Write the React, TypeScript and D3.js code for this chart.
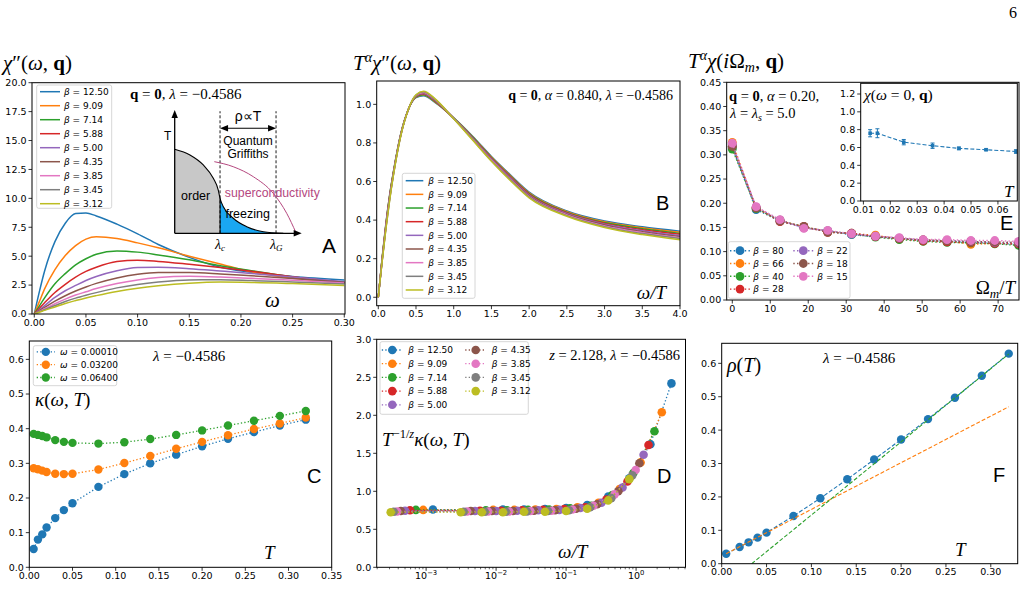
import React from 'react';
import * as d3 from 'd3';

// ---------------- colours ----------------
const tab10 = ['#1f77b4', '#ff7f0e', '#2ca02c', '#d62728', '#9467bd', '#8c564b', '#e377c2', '#7f7f7f', '#bcbd22'];
const SANS = 'DejaVu Sans, Liberation Sans, sans-serif';
const SERIF = 'Liberation Serif, DejaVu Serif, serif';
const ARIAL = 'Liberation Sans, Arial, sans-serif';

// ---------------- Panel A : chi''(omega) ----------------
const betaA = ['12.50', '9.09', '7.14', '5.88', '5.00', '4.35', '3.85', '3.45', '3.12'];
const omegaA = [0, 0.005, 0.01, 0.02, 0.03, 0.04, 0.05, 0.06, 0.08, 0.10, 0.12, 0.15, 0.18, 0.21, 0.25, 0.30];
const chiA_1250 = [0, 1.96, 3.72, 6.26, 7.85, 8.68, 8.73, 8.48, 7.77, 6.93, 6.01, 4.90, 4.05, 3.62, 3.25, 2.95];
const chiA_909 = [0, 1.09, 2.17, 3.83, 5.05, 5.91, 6.47, 6.68, 6.53, 6.15, 5.72, 5.00, 4.33, 3.65, 3.08, 2.70];
const chiA_714 = [0, 0.71, 1.39, 2.61, 3.49, 4.25, 4.78, 5.17, 5.45, 5.35, 5.11, 4.69, 4.17, 3.75, 3.20, 2.66];
const chiA_588 = [0, 0.50, 0.97, 1.86, 2.57, 3.19, 3.68, 4.04, 4.54, 4.65, 4.55, 4.30, 4.02, 3.70, 3.23, 2.75];
const chiA_500 = [0, 0.37, 0.73, 1.43, 2.01, 2.47, 2.90, 3.24, 3.74, 4.01, 4.05, 3.92, 3.72, 3.51, 3.20, 2.78];
const chiA_435 = [0, 0.29, 0.57, 1.11, 1.58, 1.99, 2.34, 2.65, 3.12, 3.44, 3.59, 3.58, 3.46, 3.30, 3.08, 2.75];
const chiA_385 = [0, 0.23, 0.45, 0.89, 1.29, 1.64, 1.92, 2.20, 2.64, 2.95, 3.15, 3.26, 3.20, 3.09, 2.92, 2.69];
const chiA_345 = [0, 0.19, 0.37, 0.73, 1.08, 1.37, 1.62, 1.85, 2.26, 2.56, 2.77, 2.95, 2.96, 2.89, 2.77, 2.60];
const chiA_312 = [0, 0.15, 0.31, 0.61, 0.91, 1.16, 1.39, 1.59, 1.95, 2.23, 2.44, 2.66, 2.76, 2.73, 2.63, 2.47];
const chiA = [chiA_1250, chiA_909, chiA_714, chiA_588, chiA_500, chiA_435, chiA_385, chiA_345, chiA_312];

// Panel A inset (schematic phase diagram, in inset units)
const phaseOrder = [[0, 0.681], [0.12, 0.635], [0.225, 0.554], [0.304, 0.446], [0.343, 0.351], [0.357, 0.284]];
const phaseFreeze = [[0.357, 0.284], [0.383, 0.216], [0.461, 0.122], [0.567, 0.054], [0.698, 0.013], [0.855, 0]];
const scDome = [[0.312, 0.581], [0.461, 0.540], [0.619, 0.459], [0.776, 0.324], [0.882, 0.162], [0.955, 0.005]];
const lambdaC = 0.357;
const lambdaG = 0.798;

// ---------------- Panel B : scaled chi'' ----------------
const xB = [0, 0.05, 0.1, 0.15, 0.2, 0.3, 0.4, 0.5, 0.6, 0.75, 1.0, 1.25, 1.5, 1.75, 2.0, 2.5, 3.0, 3.5, 4.0];
const yB_1250 = [0, .200, .380, .530, .650, .850, .975, 1.035, 1.045, 1.010, .930, .835, .730, .635, .545, .447, .395, .365, .342];
const yB_909 = [0, .198, .376, .526, .647, .849, .975, 1.037, 1.048, 1.013, .929, .832, .727, .631, .541, .444, .391, .360, .337];
const yB_714 = [0, .195, .372, .523, .645, .848, .975, 1.039, 1.050, 1.015, .929, .830, .724, .627, .537, .440, .387, .355, .331];
const yB_588 = [0, .193, .369, .519, .642, .846, .975, 1.041, 1.053, 1.018, .928, .827, .721, .624, .534, .437, .383, .350, .326];
const yB_500 = [0, .190, .365, .515, .640, .845, .975, 1.043, 1.056, 1.020, .928, .825, .718, .620, .530, .434, .379, .345, .320];
const yB_435 = [0, .188, .361, .511, .638, .844, .975, 1.044, 1.059, 1.022, .927, .823, .714, .616, .526, .430, .375, .340, .315];
const yB_385 = [0, .185, .358, .508, .635, .843, .975, 1.046, 1.062, 1.025, .927, .820, .711, .612, .522, .427, .370, .335, .309];
const yB_345 = [0, .183, .354, .504, .633, .841, .975, 1.048, 1.065, 1.027, .926, .818, .708, .609, .519, .423, .366, .330, .304];
const yB_312 = [0, .180, .350, .500, .630, .840, .975, 1.050, 1.068, 1.030, .925, .815, .705, .605, .515, .420, .362, .325, .298];
const yB = [yB_1250, yB_909, yB_714, yB_588, yB_500, yB_435, yB_385, yB_345, yB_312];

// ---------------- Panel E : Matsubara ----------------
const betaE = ['80', '66', '40', '28', '22', '18', '15'];
const xE = [0, 6.28, 12.57, 18.85, 25.13, 31.42, 37.70, 43.98, 50.27, 56.55, 62.83, 69.12, 75.40];
const yE_80 = [0.315, 0.187, 0.163, 0.150, 0.142, 0.135, 0.131, 0.127, 0.123, 0.121, 0.119, 0.117, 0.115];
const yE_66 = [0.326, 0.190, 0.164, 0.151, 0.141, 0.137, 0.134, 0.126, 0.124, 0.122, 0.115, 0.117, 0.116];
const yE_40 = [0.312, 0.189, 0.165, 0.150, 0.143, 0.136, 0.130, 0.125, 0.121, 0.119, 0.118, 0.116, 0.113];
const yE_28 = [0.318, 0.191, 0.162, 0.152, 0.140, 0.138, 0.131, 0.127, 0.122, 0.120, 0.119, 0.117, 0.116];
const yE_22 = [0.321, 0.192, 0.165, 0.149, 0.143, 0.136, 0.132, 0.128, 0.124, 0.123, 0.121, 0.119, 0.118];
const yE_18 = [0.318, 0.190, 0.163, 0.152, 0.140, 0.138, 0.131, 0.127, 0.124, 0.122, 0.121, 0.120, 0.119];
const yE_15 = [0.324, 0.193, 0.166, 0.148, 0.144, 0.137, 0.132, 0.129, 0.125, 0.125, 0.123, 0.123, 0.121];
const yE = [yE_80, yE_66, yE_40, yE_28, yE_22, yE_18, yE_15];
// inset
const tInset = [0.0125, 0.0152, 0.025, 0.0357, 0.0455, 0.0556, 0.0667];
const chi0Inset = [0.76, 0.76, 0.66, 0.62, 0.59, 0.575, 0.555];
const chi0Err = [0.04, 0.05, 0.03, 0.03, 0.015, 0.01, 0.02];

// ---------------- Panel C : kappa(omega,T) ----------------
const omegaC = ['0.00010', '0.03200', '0.06400'];
const tC = [0.005, 0.01, 0.015, 0.02, 0.03, 0.04, 0.05, 0.08, 0.11, 0.14, 0.17, 0.20, 0.23, 0.26, 0.29, 0.32];
const kC_1 = [0.053, 0.080, 0.095, 0.115, 0.142, 0.165, 0.185, 0.232, 0.269, 0.300, 0.325, 0.349, 0.371, 0.390, 0.409, 0.426];
const kC_2 = [0.286, 0.283, 0.279, 0.275, 0.270, 0.269, 0.270, 0.282, 0.301, 0.321, 0.342, 0.362, 0.381, 0.399, 0.415, 0.432];
const kC_3 = [0.385, 0.382, 0.379, 0.375, 0.367, 0.362, 0.359, 0.357, 0.361, 0.370, 0.382, 0.395, 0.409, 0.423, 0.437, 0.451];
const kC = [kC_1, kC_2, kC_3];

// ---------------- Panel D : scaled kappa ----------------
const xD_1250 = [0.00125, 0.0125, 0.025, 0.05, 0.1, 0.2, 0.4, 0.8, 1.6, 3.2];
const yD_1250 = [0.76, 0.76, 0.76, 0.765, 0.78, 0.82, 0.93, 1.17, 1.62, 2.42];
const xD_909 = [0.000909, 0.00909, 0.0182, 0.0364, 0.0727, 0.145, 0.291, 0.582, 1.16, 2.33];
const yD_909 = [0.755, 0.755, 0.755, 0.76, 0.765, 0.79, 0.85, 1.03, 1.38, 2.04];
const xD_714 = [0.000714, 0.00714, 0.0143, 0.0286, 0.0571, 0.114, 0.229, 0.457, 0.914, 1.83];
const yD_714 = [0.755, 0.75, 0.75, 0.755, 0.76, 0.775, 0.81, 0.95, 1.24, 1.79];
const xD_588 = [0.000588, 0.00588, 0.0118, 0.0235, 0.047, 0.094, 0.188, 0.376, 0.753, 1.505];
const yD_588 = [0.75, 0.745, 0.745, 0.75, 0.755, 0.765, 0.79, 0.89, 1.13, 1.61];
const xD_500 = [0.0005, 0.005, 0.01, 0.02, 0.04, 0.08, 0.16, 0.32, 0.64, 1.28];
const yD_500 = [0.745, 0.74, 0.74, 0.745, 0.75, 0.755, 0.78, 0.85, 1.05, 1.48];
const xD_435 = [0.000435, 0.00435, 0.0087, 0.0174, 0.0348, 0.0696, 0.139, 0.278, 0.557, 1.114];
const yD_435 = [0.74, 0.74, 0.74, 0.74, 0.745, 0.75, 0.77, 0.83, 1.0, 1.37];
const xD_385 = [0.000385, 0.00385, 0.0077, 0.0154, 0.0308, 0.0616, 0.123, 0.246, 0.493, 0.986];
const yD_385 = [0.735, 0.735, 0.735, 0.735, 0.74, 0.745, 0.76, 0.81, 0.96, 1.28];
const xD_345 = [0.000345, 0.00345, 0.0069, 0.0138, 0.0276, 0.0552, 0.110, 0.221, 0.442, 0.883];
const yD_345 = [0.73, 0.73, 0.73, 0.73, 0.735, 0.74, 0.75, 0.79, 0.91, 1.21];
const xD_312 = [0.000312, 0.00312, 0.00624, 0.0125, 0.025, 0.0499, 0.0998, 0.2, 0.399, 0.799];
const yD_312 = [0.725, 0.725, 0.725, 0.725, 0.73, 0.73, 0.74, 0.77, 0.88, 1.16];
const xD = [xD_1250, xD_909, xD_714, xD_588, xD_500, xD_435, xD_385, xD_345, xD_312];
const yD = [yD_1250, yD_909, yD_714, yD_588, yD_500, yD_435, yD_385, yD_345, yD_312];

// ---------------- Panel F : rho(T) ----------------
const tF = [0.005, 0.02, 0.03, 0.04, 0.05, 0.08, 0.11, 0.14, 0.17, 0.20, 0.23, 0.26, 0.29, 0.32];
const rhoF = [0.030, 0.050, 0.064, 0.078, 0.093, 0.143, 0.196, 0.253, 0.312, 0.372, 0.433, 0.497, 0.563, 0.629];
const fitLowF = [[0.005, 0.030], [0.32, 0.470]];
const fitHighF = [[0.0335, 0.0], [0.32, 0.628]];

// ---------------- helpers ----------------
const f1 = d3.format('.1f');
const f2 = d3.format('.2f');
const f0 = d3.format('d');

function Frame(p: any) {
  const [x0, x1] = p.xs.range();
  const [y1, y0] = p.ys.range();
  const fs = 9.5;
  return (
    <g fontFamily={SANS} fontSize={fs} fill="#000">
      {(p.minor || []).map((v: number, i: number) => (
        <line key={'m' + i} x1={p.xs(v)} x2={p.xs(v)} y1={y1} y2={y1 + 2} stroke="#000" strokeWidth={0.6} />
      ))}
      {p.xt.map((v: number, i: number) => (
        <g key={'x' + i}>
          <line x1={p.xs(v)} x2={p.xs(v)} y1={y1} y2={y1 + 3.5} stroke="#000" strokeWidth={0.8} />
          <text x={p.xs(v)} y={y1 + 11.5} textAnchor="middle">{p.xl ? p.xl(v, i) : p.xf(v)}</text>
        </g>
      ))}
      {p.yt.map((v: number, i: number) => (
        <g key={'y' + i}>
          <line x1={x0 - 3.5} x2={x0} y1={p.ys(v)} y2={p.ys(v)} stroke="#000" strokeWidth={0.8} />
          <text x={x0 - 5.5} y={p.ys(v) + 3.4} textAnchor="end">{p.yf(v)}</text>
        </g>
      ))}
      <rect x={x0} y={y0} width={x1 - x0} height={y1 - y0} fill="none" stroke="#000" strokeWidth={1} />
    </g>
  );
}

function Clip({ id, xs, ys }: any) {
  const [x0, x1] = xs.range();
  const [y1, y0] = ys.range();
  return (
    <clipPath id={id}>
      <rect x={x0} y={y0} width={x1 - x0} height={y1 - y0} />
    </clipPath>
  );
}

function LegendBox({ x, y, w, h }: any) {
  return <rect x={x} y={y} width={w} height={h} rx={2} fill="#fff" fillOpacity={0.8} stroke="#cccccc" strokeWidth={0.8} />;
}

function BetaTxt({ v, x, y }: any) {
  return (
    <text x={x} y={y + 3.2} fontFamily={SANS} fontSize={9}>
      <tspan fontStyle="italic">β</tspan>
      {' = ' + v}
    </text>
  );
}

export default function App() {
  // ---- scales ----
  const xA = d3.scaleLinear().domain([-0.0022, 0.3007]).range([32, 345]);
  const yA = d3.scaleLinear().domain([0, 20]).range([314, 82.7]);
  const xB2 = d3.scaleLinear().domain([-0.021, 4.0]).range([376.7, 680]);
  const yB2 = d3.scaleLinear().domain([-0.0437, 1.121]).range([305.7, 81]);
  const xE2 = d3.scaleLinear().domain([-1.47, 75.5]).range([726.7, 1019]);
  const yE2 = d3.scaleLinear().domain([0, 0.45]).range([300, 82.3]);
  const xEi = d3.scaleLinear().domain([0.009, 0.0672]).range([860.7, 1017.3]);
  const yEi = d3.scaleLinear().domain([0, 1.32]).range([201, 83.3]);
  const xC2 = d3.scaleLinear().domain([0, 0.35]).range([29.3, 331.7]);
  const yC2 = d3.scaleLinear().domain([0, 0.653]).range([567.3, 341]);
  const xD2 = d3.scaleLog().domain([Math.pow(10, -3.706), Math.pow(10, 0.706)]).range([376.7, 685.5]);
  const yD2 = d3.scaleLinear().domain([0, 3]).range([567.3, 339.3]);
  const xF2 = d3.scaleLinear().domain([0, 0.33]).range([721.7, 1017.7]);
  const yF2 = d3.scaleLinear().domain([0, 0.66]).range([563.7, 343.3]);
  // inset of A
  const ix = d3.scaleLinear().domain([0, 1]).range([174.7, 301.7]);
  const iy = d3.scaleLinear().domain([0, 1]).range([233.3, 110]);

  const lineA = d3.line<number>().x((_, i) => xA(omegaA[i])).y((d) => yA(d)).curve(d3.curveMonotoneX);
  const lineB = d3.line<number>().x((_, i) => xB2(xB[i])).y((d) => yB2(d)).curve(d3.curveMonotoneX);
  const lineE = d3.line<number>().x((_, i) => xE2(xE[i])).y((d) => yE2(d));
  const lineC = d3.line<number>().x((_, i) => xC2(tC[i])).y((d) => yC2(d));
  const lineF = d3.line<number>().x((_, i) => xF2(tF[i])).y((d) => yF2(d));
  const lineFit = d3.line<number[]>().x((d) => xF2(d[0])).y((d) => yF2(d[1]));
  const lineInset = d3.line<number>().x((_, i) => xEi(tInset[i])).y((d) => yEi(d));

  const areaPhase = d3.area<number[]>().x((d) => ix(d[0])).y0(iy(0)).y1((d) => iy(d[1])).curve(d3.curveMonotoneX);
  const linePhase = d3.line<number[]>().x((d) => ix(d[0])).y((d) => iy(d[1])).curve(d3.curveMonotoneX);
  const phaseAll = phaseOrder.concat(phaseFreeze.slice(1));

  const minorD: number[] = [];
  for (let e = -4; e <= 0; e++) for (let k = 2; k <= 9; k++) {
    const v = k * Math.pow(10, e);
    const [a, b] = xD2.domain();
    if (v > a && v < b) minorD.push(v);
  }
  const decD = [1e-3, 1e-2, 1e-1, 1];
  const expD = ['−3', '−2', '−1', '0'];

  const arrowUp = (x: number, y: number) => `M${x},${y} L${x - 3.2},${y + 8} L${x + 3.2},${y + 8} Z`;
  const arrowRight = (x: number, y: number) => `M${x},${y} L${x - 8},${y - 3.2} L${x - 8},${y + 3.2} Z`;
  const arrowLeft = (x: number, y: number) => `M${x},${y} L${x + 8},${y - 3.2} L${x + 8},${y + 3.2} Z`;

  return (
    <svg width={1028} height={612} style={{ position: 'absolute', left: 0, top: 0, background: '#fff' }} xmlns="http://www.w3.org/2000/svg">
      <rect x={0} y={0} width={1028} height={612} fill="#fff" />
      <defs>
        <Clip id="cA" xs={xA} ys={yA} />
        <Clip id="cB" xs={xB2} ys={yB2} />
        <Clip id="cE" xs={xE2} ys={yE2} />
        <Clip id="cEi" xs={xEi} ys={yEi} />
        <Clip id="cC" xs={xC2} ys={yC2} />
        <Clip id="cD" xs={xD2} ys={yD2} />
        <Clip id="cF" xs={xF2} ys={yF2} />
      </defs>

      {/* page number */}
      <text x={1009} y={18} fontFamily={SERIF} fontSize={16}>6</text>

      {/* ================= Panel A ================= */}
      <text x={3} y={70} fontFamily={SERIF} fontSize={21}>
        <tspan fontStyle="italic">χ</tspan>″(<tspan fontStyle="italic">ω</tspan>, <tspan fontWeight="bold">q</tspan>)
      </text>
      <g clipPath="url(#cA)">
        {chiA.map((s, i) => (
          <path key={i} d={lineA(s) || ''} fill="none" stroke={tab10[i]} strokeWidth={1.5} />
        ))}
      </g>
      <Frame xs={xA} ys={yA} xt={[0, 0.05, 0.1, 0.15, 0.2, 0.25, 0.3]} yt={[0, 2.5, 5, 7.5, 10, 12.5, 15, 17.5, 20]} xf={f2} yf={f1} />
      <LegendBox x={36.7} y={85} w={75} h={123.3} />
      {betaA.map((b, i) => (
        <g key={i}>
          <line x1={40} x2={60} y1={91.7 + 14 * i} y2={91.7 + 14 * i} stroke={tab10[i]} strokeWidth={1.5} />
          <BetaTxt v={b} x={64} y={91.7 + 14 * i} />
        </g>
      ))}
      <text x={130} y={99} fontFamily={SERIF} fontSize={15}>
        <tspan fontWeight="bold">q</tspan> = <tspan fontWeight="bold">0</tspan>, <tspan fontStyle="italic">λ</tspan> = −0.4586
      </text>
      {/* inset schematic */}
      <path d={areaPhase(phaseOrder) || ''} fill="#c8c8c8" />
      <path d={areaPhase(phaseFreeze) || ''} fill="#1aa7f2" />
      <path d={linePhase(phaseAll) || ''} fill="none" stroke="#000" strokeWidth={1.1} />
      <line x1={ix(lambdaC)} x2={ix(lambdaC)} y1={iy(0)} y2={iy(phaseOrder[5][1])} stroke="#000" strokeWidth={1} />
      <line x1={ix(lambdaC)} x2={ix(lambdaC)} y1={iy(0)} y2={iy(0.99)} stroke="#000" strokeWidth={0.9} strokeDasharray="3,2" />
      <line x1={ix(lambdaG)} x2={ix(lambdaG)} y1={iy(0)} y2={iy(0.99)} stroke="#000" strokeWidth={0.9} strokeDasharray="3,2" />
      <path d={linePhase(scDome) || ''} fill="none" stroke="#b5487f" strokeWidth={1} />
      <line x1={ix(0)} x2={ix(0)} y1={iy(0)} y2={iy(1) + 6} stroke="#000" strokeWidth={1.3} />
      <path d={arrowUp(ix(0), iy(1))} fill="#000" />
      <line x1={ix(0)} x2={ix(1) - 6} y1={iy(0)} y2={iy(0)} stroke="#000" strokeWidth={1.3} />
      <path d={arrowRight(ix(1), iy(0))} fill="#000" />
      <line x1={ix(lambdaC) + 6} x2={ix(lambdaG) - 6} y1={iy(0.852)} y2={iy(0.852)} stroke="#000" strokeWidth={1.1} />
      <path d={arrowLeft(ix(lambdaC), iy(0.852))} fill="#000" />
      <path d={arrowRight(ix(lambdaG), iy(0.852))} fill="#000" />
      <g fontFamily={ARIAL} fill="#000">
        <text x={ix(-0.085)} y={iy(0.76)} fontSize={12}>T</text>
        <text x={(ix(lambdaC) + ix(lambdaG)) / 2} y={121} fontSize={14} textAnchor="middle">ρ∝T</text>
        <text x={(ix(lambdaC) + ix(lambdaG)) / 2} y={144.5} fontSize={12} textAnchor="middle">Quantum</text>
        <text x={(ix(lambdaC) + ix(lambdaG)) / 2} y={157.5} fontSize={12} textAnchor="middle">Griffiths</text>
        <text x={ix(0.165)} y={199.5} fontSize={12.5} textAnchor="middle">order</text>
        <text x={ix(0.575)} y={217.5} fontSize={12.5} textAnchor="middle">freezing</text>
        <text x={ix(0.395)} y={197} fontSize={12.3} fill="#b5487f">superconductivity</text>
      </g>
      <g fontFamily={SERIF} fontSize={14}>
        <text x={ix(lambdaC) - 5} y={249}><tspan fontStyle="italic">λ</tspan><tspan fontStyle="italic" fontSize={9} dy={2}>c</tspan></text>
        <text x={ix(lambdaG) - 6} y={249}><tspan fontStyle="italic">λ</tspan><tspan fontStyle="italic" fontSize={9} dy={2}>G</tspan></text>
      </g>
      <text x={322} y={253} fontFamily={ARIAL} fontSize={21}>A</text>
      <text x={265} y={307} fontFamily={SERIF} fontStyle="italic" fontSize={21}>ω</text>

      {/* ================= Panel B ================= */}
      <text x={353} y={70} fontFamily={SERIF} fontSize={21}>
        <tspan fontStyle="italic">T</tspan><tspan fontStyle="italic" fontSize={14} dy={-8}>α</tspan><tspan fontStyle="italic" dy={8}>χ</tspan>″(<tspan fontStyle="italic">ω</tspan>, <tspan fontWeight="bold">q</tspan>)
      </text>
      <g clipPath="url(#cB)">
        {yB.map((s, i) => (
          <path key={i} d={lineB(s) || ''} fill="none" stroke={tab10[i]} strokeWidth={1.5} />
        ))}
      </g>
      <Frame xs={xB2} ys={yB2} xt={[0, 0.5, 1, 1.5, 2, 2.5, 3, 3.5, 4]} yt={[0, 0.2, 0.4, 0.6, 0.8, 1.0]} xf={f1} yf={f1} />
      <LegendBox x={402.3} y={173.3} w={72.7} h={125} />
      {betaA.map((b, i) => (
        <g key={i}>
          <line x1={405.7} x2={423.3} y1={180.7 + 13.66 * i} y2={180.7 + 13.66 * i} stroke={tab10[i]} strokeWidth={1.5} />
          <BetaTxt v={b} x={428.3} y={180.7 + 13.66 * i} />
        </g>
      ))}
      <text x={673} y={100} fontFamily={SERIF} fontSize={14} textAnchor="end">
        <tspan fontWeight="bold">q</tspan> = <tspan fontWeight="bold">0</tspan>, <tspan fontStyle="italic">α</tspan> = 0.840, <tspan fontStyle="italic">λ</tspan> = −0.4586
      </text>
      <text x={656} y={210} fontFamily={ARIAL} fontSize={20}>B</text>
      <text x={666} y={299} fontFamily={SERIF} fontStyle="italic" fontSize={19} textAnchor="end">ω/T</text>

      {/* ================= Panel E ================= */}
      <text x={688} y={68} fontFamily={SERIF} fontSize={21}>
        <tspan fontStyle="italic">T</tspan><tspan fontStyle="italic" fontSize={14} dy={-8}>α</tspan><tspan fontStyle="italic" dy={8}>χ</tspan>(<tspan fontStyle="italic">i</tspan>Ω<tspan fontStyle="italic" fontSize={14} dy={4}>m</tspan><tspan dy={-4}>, </tspan><tspan fontWeight="bold">q</tspan>)
      </text>
      <g clipPath="url(#cE)">
        {yE.map((s, i) => (
          <g key={i}>
            <path d={lineE(s) || ''} fill="none" stroke={tab10[i]} strokeWidth={1.4} strokeDasharray="1.4,2.3" />
            {s.map((v, j) => (
              <circle key={j} cx={xE2(xE[j])} cy={yE2(v)} r={4.4} fill={tab10[i]} />
            ))}
          </g>
        ))}
      </g>
      <Frame xs={xE2} ys={yE2} xt={[0, 10, 20, 30, 40, 50, 60, 70]} yt={[0, 0.05, 0.1, 0.15, 0.2, 0.25, 0.3, 0.35, 0.4, 0.45]} xf={f0} yf={f2} />
      <text x={729} y={101} fontFamily={SERIF} fontSize={14.5}>
        <tspan fontWeight="bold">q</tspan> = <tspan fontWeight="bold">0</tspan>, <tspan fontStyle="italic">α</tspan> = 0.20,
      </text>
      <text x={730} y={118} fontFamily={SERIF} fontSize={14.5}>
        <tspan fontStyle="italic">λ</tspan> = <tspan fontStyle="italic">λ</tspan><tspan fontStyle="italic" fontSize={10} dy={3}>s</tspan><tspan dy={-3}> = 5.0</tspan>
      </text>
      {/* inset */}
      <rect x={860.7} y={83.3} width={156.6} height={117.7} fill="#fff" />
      <g clipPath="url(#cEi)">
        <path d={lineInset(chi0Inset) || ''} fill="none" stroke={tab10[0]} strokeWidth={1.1} strokeDasharray="4,2" />
        {chi0Inset.map((v, j) => (
          <g key={j}>
            <line x1={xEi(tInset[j])} x2={xEi(tInset[j])} y1={yEi(v - chi0Err[j])} y2={yEi(v + chi0Err[j])} stroke={tab10[0]} strokeWidth={1} />
            <line x1={xEi(tInset[j]) - 2} x2={xEi(tInset[j]) + 2} y1={yEi(v - chi0Err[j])} y2={yEi(v - chi0Err[j])} stroke={tab10[0]} strokeWidth={1} />
            <line x1={xEi(tInset[j]) - 2} x2={xEi(tInset[j]) + 2} y1={yEi(v + chi0Err[j])} y2={yEi(v + chi0Err[j])} stroke={tab10[0]} strokeWidth={1} />
            <rect x={xEi(tInset[j]) - 1.8} y={yEi(v) - 1.8} width={3.6} height={3.6} fill={tab10[0]} />
          </g>
        ))}
      </g>
      <Frame xs={xEi} ys={yEi} xt={[0.01, 0.02, 0.03, 0.04, 0.05, 0.06]} yt={[0, 0.2, 0.4, 0.6, 0.8, 1.0, 1.2]} xf={f2} yf={f1} />
      <text x={864} y={100} fontFamily={SERIF} fontSize={15.5}>
        <tspan fontStyle="italic">χ</tspan>(<tspan fontStyle="italic">ω</tspan> = 0, <tspan fontWeight="bold">q</tspan>)
      </text>
      <text x={1004} y={197} fontFamily={SERIF} fontStyle="italic" fontSize={17}>T</text>
      <text x={1000} y={230} fontFamily={ARIAL} fontSize={20}>E</text>
      <text x={1015} y={294} fontFamily={SERIF} fontSize={19} textAnchor="end">
        Ω<tspan fontStyle="italic" fontSize={13} dy={4}>m</tspan><tspan dy={-4}>/</tspan><tspan fontStyle="italic">T</tspan>
      </text>
      <LegendBox x={728.3} y={241.7} w={121.7} h={56.6} />
      {betaE.map((b, i) => {
        const col = i < 4 ? 0 : 1;
        const row = i < 4 ? i : i - 4;
        const cx = col === 0 ? 740 : 803.3;
        const tx = col === 0 ? 753.3 : 817.3;
        const yy = 250.7 + 12.8 * row;
        return (
          <g key={i}>
            <line x1={cx - 10} x2={cx + 10} y1={yy} y2={yy} stroke={tab10[i]} strokeWidth={1.4} strokeDasharray="1.4,2.3" />
            <circle cx={cx} cy={yy} r={4.4} fill={tab10[i]} />
            <BetaTxt v={b} x={tx} y={yy} />
          </g>
        );
      })}

      {/* ================= Panel C ================= */}
      <g clipPath="url(#cC)">
        {kC.map((s, i) => (
          <g key={i}>
            <path d={lineC(s) || ''} fill="none" stroke={tab10[i]} strokeWidth={1.3} strokeDasharray="1.3,2.2" />
            {s.map((v, j) => (
              <circle key={j} cx={xC2(tC[j])} cy={yC2(v)} r={4.2} fill={tab10[i]} />
            ))}
          </g>
        ))}
      </g>
      <Frame xs={xC2} ys={yC2} xt={[0, 0.05, 0.1, 0.15, 0.2, 0.25, 0.3, 0.35]} yt={[0, 0.1, 0.2, 0.3, 0.4, 0.5, 0.6]} xf={f2} yf={f1} />
      <LegendBox x={33.3} y={345.7} w={83.4} h={40} />
      {omegaC.map((w, i) => {
        const yy = 351.9 + 12.8 * i;
        return (
          <g key={i}>
            <line x1={36.7} x2={55} y1={yy} y2={yy} stroke={tab10[i]} strokeWidth={1.3} strokeDasharray="1.3,2.2" />
            <circle cx={45.8} cy={yy} r={4.2} fill={tab10[i]} />
            <text x={60} y={yy + 3.2} fontFamily={SANS} fontSize={9}>
              <tspan fontStyle="italic">ω</tspan>{' = ' + w}
            </text>
          </g>
        );
      })}
      <text x={153} y={361} fontFamily={SERIF} fontSize={15}>
        <tspan fontStyle="italic">λ</tspan> = −0.4586
      </text>
      <text x={35} y={406} fontFamily={SERIF} fontSize={19}>
        <tspan fontStyle="italic">κ</tspan>(<tspan fontStyle="italic">ω</tspan>, <tspan fontStyle="italic">T</tspan>)
      </text>
      <text x={307} y={483} fontFamily={ARIAL} fontSize={20}>C</text>
      <text x={264} y={559} fontFamily={SERIF} fontStyle="italic" fontSize={19}>T</text>

      {/* ================= Panel D ================= */}
      <g clipPath="url(#cD)">
        {yD.map((s, i) => (
          <g key={i}>
            <path d={d3.line<number>().x((_, j) => xD2(xD[i][j])).y((v) => yD2(v))(s) || ''} fill="none" stroke={tab10[i]} strokeWidth={1.3} strokeDasharray="1.3,2.2" />
            {s.map((v, j) => (
              <circle key={j} cx={xD2(xD[i][j])} cy={yD2(v)} r={4.3} fill={tab10[i]} />
            ))}
          </g>
        ))}
      </g>
      <Frame xs={xD2} ys={yD2} xt={decD} yt={[0, 0.5, 1, 1.5, 2, 2.5, 3]} xf={f1} yf={f1} minor={minorD}
        xl={(v: number, i: number) => (
          <>
            10<tspan fontSize={6.8} dy={-4}>{expD[i]}</tspan>
          </>
        )} />
      <LegendBox x={380} y={341.7} w={148.3} h={72.6} />
      {betaA.map((b, i) => {
        const col = i < 5 ? 0 : 1;
        const row = i < 5 ? i : i - 5;
        const cx = col === 0 ? 392.3 : 475.7;
        const tx = col === 0 ? 408.3 : 491.7;
        const yy = 350 + 13.7 * row;
        return (
          <g key={i}>
            <line x1={cx - 10.5} x2={cx + 10.5} y1={yy} y2={yy} stroke={tab10[i]} strokeWidth={1.3} strokeDasharray="1.3,2.2" />
            <circle cx={cx} cy={yy} r={4.3} fill={tab10[i]} />
            <BetaTxt v={b} x={tx} y={yy} />
          </g>
        );
      })}
      <text x={680} y={360} fontFamily={SERIF} fontSize={14.5} textAnchor="end">
        <tspan fontStyle="italic">z</tspan> = 2.128, <tspan fontStyle="italic">λ</tspan> = −0.4586
      </text>
      <text x={382} y={446} fontFamily={SERIF} fontSize={19}>
        <tspan fontStyle="italic">T</tspan><tspan fontSize={12.5} dy={-8}>−1/</tspan><tspan fontSize={12.5} fontStyle="italic">z</tspan><tspan fontStyle="italic" dy={8}>κ</tspan>(<tspan fontStyle="italic">ω</tspan>, <tspan fontStyle="italic">T</tspan>)
      </text>
      <text x={657} y={483} fontFamily={ARIAL} fontSize={20}>D</text>
      <text x={558} y={558} fontFamily={SERIF} fontStyle="italic" fontSize={19}>ω/T</text>

      {/* ================= Panel F ================= */}
      <g clipPath="url(#cF)">
        <path d={lineF(rhoF) || ''} fill="none" stroke={tab10[0]} strokeWidth={1.1} strokeDasharray="4,2" />
        {rhoF.map((v, j) => (
          <circle key={j} cx={xF2(tF[j])} cy={yF2(v)} r={4.2} fill={tab10[0]} />
        ))}
        <path d={lineFit(fitLowF) || ''} fill="none" stroke={tab10[1]} strokeWidth={1.1} strokeDasharray="4,2" />
        <path d={lineFit(fitHighF) || ''} fill="none" stroke={tab10[2]} strokeWidth={1.1} strokeDasharray="4,2" />
      </g>
      <Frame xs={xF2} ys={yF2} xt={[0, 0.05, 0.1, 0.15, 0.2, 0.25, 0.3]} yt={[0, 0.1, 0.2, 0.3, 0.4, 0.5, 0.6]} xf={f2} yf={f1} />
      <text x={727} y={372} fontFamily={SERIF} fontSize={20}>
        <tspan fontStyle="italic">ρ</tspan>(<tspan fontStyle="italic">T</tspan>)
      </text>
      <text x={823} y={363} fontFamily={SERIF} fontSize={15}>
        <tspan fontStyle="italic">λ</tspan> = −0.4586
      </text>
      <text x={993} y={482} fontFamily={ARIAL} fontSize={20}>F</text>
      <text x={955} y={556} fontFamily={SERIF} fontStyle="italic" fontSize={19}>T</text>
    </svg>
  );
}
